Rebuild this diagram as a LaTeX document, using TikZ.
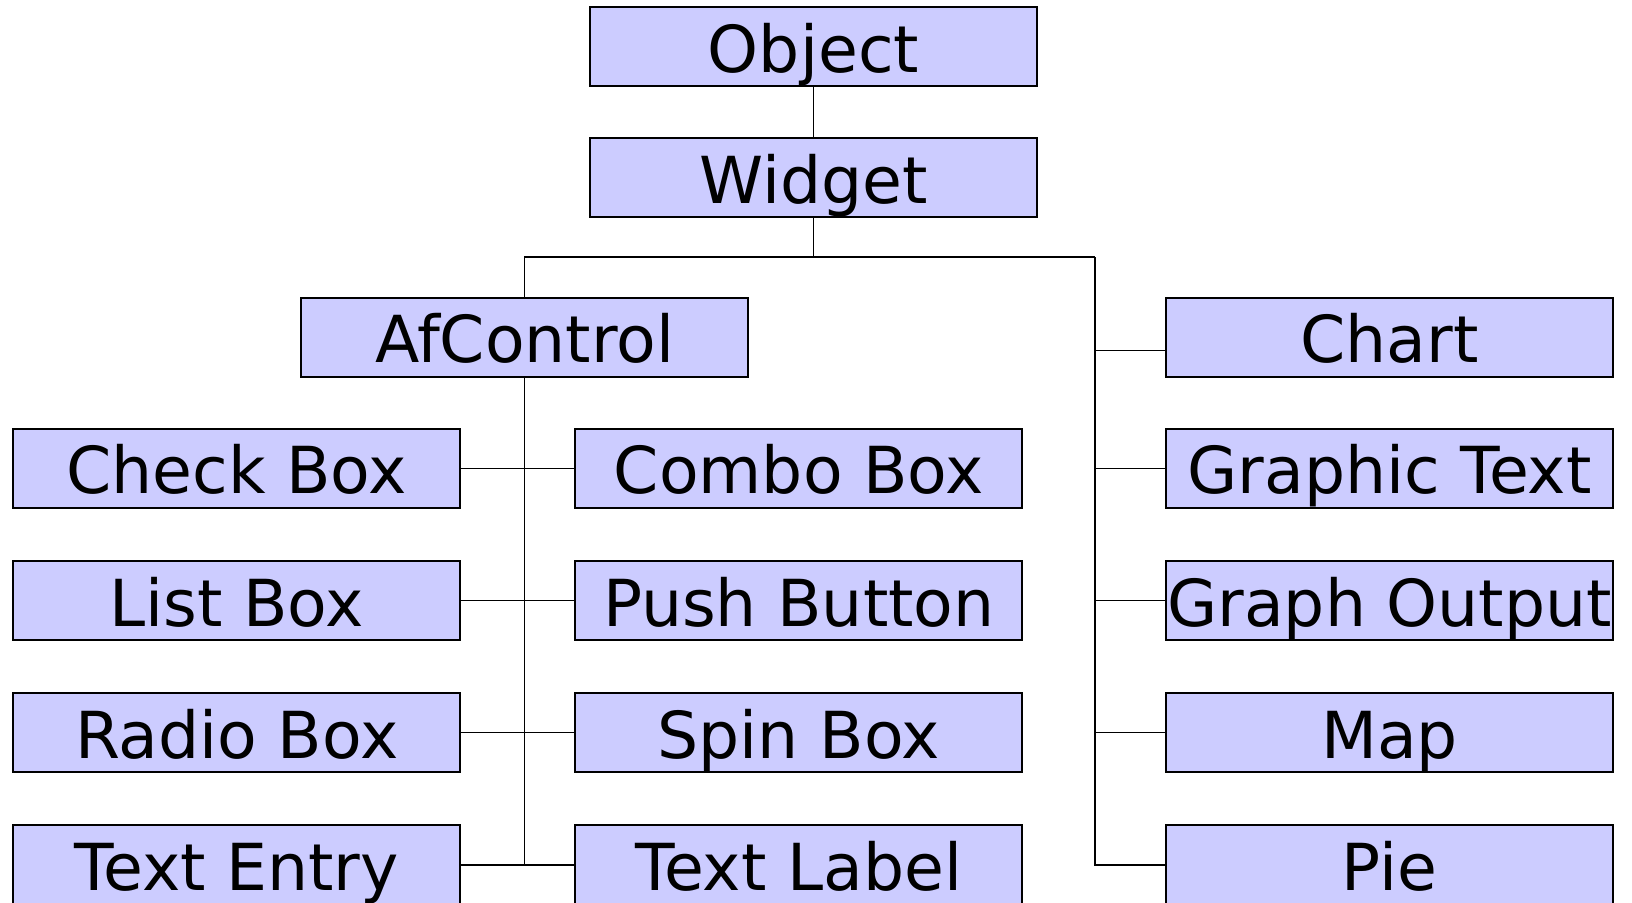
\documentclass[tikz,border=0pt]{standalone}
\usepackage{fontspec}
\setmainfont{DejaVu Sans}
\definecolor{boxfill}{RGB}{204,204,255}
\begin{document}
\begin{tikzpicture}[x=0.5pt,y=-0.5pt,
  cls/.style={draw=black,fill=boxfill,line width=1pt,inner sep=0pt,
    minimum width=223.5pt,minimum height=39.5pt,
    text height=32.5pt,text depth=7pt,
    font=\fontsize{32.4}{38}\selectfont},
  link/.style={draw=black,line width=0.7pt}]
\clip (0,0) rectangle (1632,902);
\fill[white] (0,0) rectangle (1632,902);
% top
\node[cls] (obj) at (813.5,46.9) {Object};
\node[cls] (wid) at (813.5,177.9) {Widget};
\node[cls] (afc) at (524.6,337.2) {AfControl};
% left column
\node[cls] (chk) at (236.8,468.3) {Check Box};
\node[cls] (lst) at (236.8,600.5) {List Box};
\node[cls] (rad) at (236.8,732.7) {Radio Box};
\node[cls] (ten) at (236.8,864.8) {Text Entry};
% middle column
\node[cls] (cmb) at (798.8,468.3) {Combo Box};
\node[cls] (psh) at (798.8,600.5) {Push Button};
\node[cls] (spn) at (798.8,732.7) {Spin Box};
\node[cls] (tlb) at (798.8,864.8) {Text Label};
% right column
\node[cls] (chr) at (1389.5,337.2) {Chart};
\node[cls] (gtx) at (1389.5,468.3) {Graphic Text};
\node[cls] (gop) at (1389.5,600.5) {Graph Output};
\node[cls] (map) at (1389.5,732.7) {Map};
\node[cls] (pie) at (1389.5,864.8) {Pie};
% bus coordinates
\coordinate (bus) at (813.5,257);
\coordinate (rtop) at (1095,257);
\coordinate (chrin) at ([yshift=-6.5pt]chr.west);
% connectors
\draw[link] (obj.south) -- (wid.north);
\draw[link] (wid.south) -- (bus);
\draw[link] (afc.north) |- (rtop);
\draw[link] (rtop) |- (pie.west);
\draw[link] (rtop |- chrin) -- (chrin);
\draw[link] (rtop |- gtx.west) -- (gtx.west);
\draw[link] (rtop |- gop.west) -- (gop.west);
\draw[link] (rtop |- map.west) -- (map.west);
\draw[link] (afc.south) -- (afc.south |- tlb.west);
\draw[link] (chk.east) -- (cmb.west);
\draw[link] (lst.east) -- (psh.west);
\draw[link] (rad.east) -- (spn.west);
\draw[link] (ten.east) -- (tlb.west);
\end{tikzpicture}
\end{document}
